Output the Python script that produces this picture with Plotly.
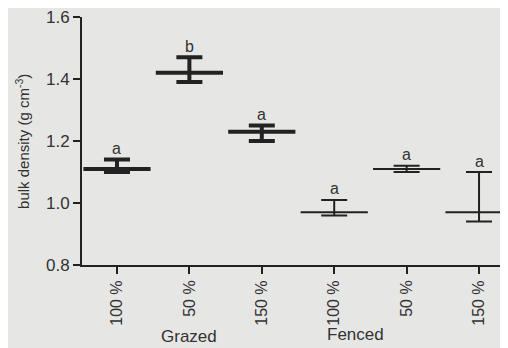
import plotly.graph_objects as go

categories = ["100 %", "50 %", "150 %", "100 %", "50 %", "150 %"]
groups = ["Grazed", "Grazed", "Grazed", "Fenced", "Fenced", "Fenced"]
means = [1.11, 1.42, 1.23, 0.97, 1.11, 0.97]
err_plus = [0.03, 0.05, 0.02, 0.04, 0.01, 0.13]
err_minus = [0.01, 0.03, 0.03, 0.01, 0.01, 0.03]
letters = ["a", "b", "a", "a", "a", "a"]
y_ticks = [0.8, 1.0, 1.2, 1.4, 1.6]

ink = "#222222"
txt = "#333333"
xs = list(range(len(categories)))

fig = go.Figure()
for grp, thick in (("Grazed", 4), ("Fenced", 2)):
    idx = [i for i, g in enumerate(groups) if g == grp]
    fig.add_trace(go.Scatter(
        x=[xs[i] for i in idx],
        y=[means[i] for i in idx],
        mode="markers",
        marker=dict(symbol="line-ew", size=48, color=ink,
                    line=dict(color=ink, width=thick)),
        error_y=dict(type="data", symmetric=False,
                     array=[err_plus[i] for i in idx],
                     arrayminus=[err_minus[i] for i in idx],
                     color=ink, thickness=thick, width=13),
        showlegend=False, hoverinfo="skip",
    ))

annotations = []
for i in xs:
    annotations.append(dict(x=xs[i], y=means[i] + err_plus[i], xref="x", yref="y",
                            text=letters[i], showarrow=False, yshift=11,
                            font=dict(size=16, color=txt)))

annotations.append(dict(x=1, y=-0.336, xref="x", yref="paper", text="Grazed",
                        showarrow=False, yanchor="bottom",
                        font=dict(size=17, color=txt)))
annotations.append(dict(x=3.3, y=-0.328, xref="x", yref="paper", text="Fenced",
                        showarrow=False, yanchor="bottom",
                        font=dict(size=17, color=txt)))
annotations.append(dict(x=-0.141, y=0.5, xref="paper", yref="paper",
                        text="bulk density (g cm<sup>-3</sup>)", textangle=-90,
                        showarrow=False, xanchor="center", yanchor="middle",
                        font=dict(size=15, color=txt)))

fig.update_layout(
    width=500, height=340,
    margin=dict(l=74, r=0, t=9, b=83),
    paper_bgcolor="#e6e6e4", plot_bgcolor="#e6e6e4",
    font=dict(family="Liberation Sans, Arial, sans-serif", color=txt),
    annotations=annotations,
    xaxis=dict(range=[-0.483, 5.40], tickvals=xs, ticktext=categories,
               tickangle=-90, ticks="outside", ticklen=7, tickwidth=2,
               tickcolor=ink, showline=True, linecolor=ink, linewidth=2,
               showgrid=False, zeroline=False, ticklabeloverflow="allow",
               tickfont=dict(size=16, color=txt)),
    yaxis=dict(range=[0.8, 1.6], tickvals=y_ticks,
               ticktext=[f"{v:.1f}" for v in y_ticks],
               ticks="outside", ticklen=7, tickwidth=2, tickcolor=ink,
               showline=True, linecolor=ink, linewidth=2,
               showgrid=False, zeroline=False, ticklabeloverflow="allow",
               tickfont=dict(size=17, color=txt)),
)

fig.write_html("out.html")
